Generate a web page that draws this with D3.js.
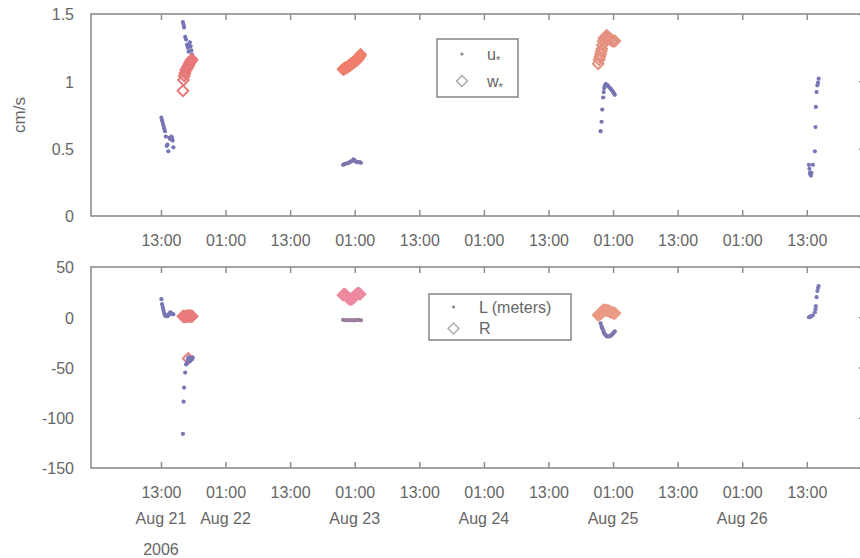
<!DOCTYPE html>
<html>
<head>
<meta charset="utf-8">
<script src="https://cdn.jsdelivr.net/npm/d3@7"></script>
<style>
  body { margin: 0; background: #fff; }
  text { font-family: "Liberation Sans", Arial, Helvetica, sans-serif; fill: #666; }
</style>
</head>
<body>
<svg id="chart" width="860" height="558"></svg>
<script>
// ---- data: [time (MM-DD HH:MM, 2006), value] ----
// friction velocity u* (cm/s), one array per sampling run
const uStarRun1 = [
  ["08-21 13:05",0.73],["08-21 13:12",0.71],["08-21 13:20",0.69],["08-21 13:28",0.67],
  ["08-21 13:36",0.65],["08-21 13:44",0.63],["08-21 13:55",0.59],["08-21 14:04",0.52],
  ["08-21 14:12",0.53],["08-21 14:22",0.48],["08-21 14:35",0.58],["08-21 14:45",0.57],
  ["08-21 14:55",0.59],["08-21 15:05",0.58],["08-21 15:10",0.56],["08-21 15:18",0.51],
  ["08-21 17:05",1.44],["08-21 17:12",1.42],["08-21 17:18",1.40],["08-21 17:30",1.33],
  ["08-21 17:40",1.31],["08-21 17:50",1.27],["08-21 18:00",1.25],["08-21 18:08",1.22],
  ["08-21 18:15",1.27],["08-21 18:22",1.29],["08-21 18:30",1.26],["08-21 18:38",1.23],
  ["08-21 18:45",1.20],["08-21 18:52",1.18]
];
const uStarRun2 = [
  ["08-22 22:50",0.38],["08-22 23:05",0.385],["08-22 23:20",0.39],["08-22 23:35",0.39],
  ["08-22 23:50",0.395],["08-23 00:05",0.40],["08-23 00:20",0.405],["08-23 00:35",0.41],
  ["08-23 00:45",0.42],["08-23 00:55",0.415],["08-23 01:10",0.405],["08-23 01:25",0.40],
  ["08-23 01:40",0.40],["08-23 01:55",0.40],["08-23 02:10",0.395]
];
const uStarRun3 = [
  ["08-24 22:41",0.63],["08-24 22:52",0.70],["08-24 22:59",0.79],["08-24 23:10",0.88],
  ["08-24 23:16",0.92],["08-24 23:21",0.95],["08-24 23:30",0.97],["08-24 23:40",0.98],
  ["08-24 23:50",0.97],["08-25 00:00",0.97],["08-25 00:10",0.96],["08-25 00:25",0.95],
  ["08-25 00:40",0.94],["08-25 00:50",0.93],["08-25 01:01",0.92],["08-25 01:10",0.91],
  ["08-25 01:20",0.90]
];
const uStarRun4 = [
  ["08-26 13:24",0.38],["08-26 13:30",0.35],["08-26 13:35",0.32],["08-26 13:40",0.31],
  ["08-26 13:46",0.30],["08-26 13:52",0.32],["08-26 14:08",0.38],["08-26 14:30",0.48],
  ["08-26 14:37",0.66],["08-26 14:41",0.81],["08-26 14:49",0.92],["08-26 14:58",0.97],
  ["08-26 15:05",0.99],["08-26 15:12",1.02]
];

// convective velocity w* (cm/s)
const wStarRun1 = [
  ["08-21 17:05",0.93],["08-21 17:12",1.01],["08-21 17:20",1.04],["08-21 17:28",1.06],
  ["08-21 17:36",1.08],["08-21 17:44",1.09],["08-21 17:52",1.10],["08-21 18:00",1.11],
  ["08-21 18:08",1.12],["08-21 18:16",1.13],["08-21 18:24",1.14],["08-21 18:32",1.15],
  ["08-21 18:40",1.16],["08-21 18:48",1.16]
];
const wStarRun2 = [
  ["08-22 22:50",1.09],["08-22 23:00",1.09],["08-22 23:10",1.10],["08-22 23:20",1.10],
  ["08-22 23:30",1.10],["08-22 23:40",1.11],["08-22 23:50",1.11],["08-23 00:00",1.12],
  ["08-23 00:10",1.12],["08-23 00:20",1.13],["08-23 00:30",1.13],["08-23 00:40",1.14],
  ["08-23 00:50",1.14],["08-23 01:00",1.15],["08-23 01:10",1.15],["08-23 01:20",1.16],
  ["08-23 01:30",1.16],["08-23 01:40",1.17],["08-23 01:50",1.18],["08-23 02:00",1.19],
  ["08-23 02:05",1.20]
];
const wStarRun3 = [
  ["08-24 22:15",1.13],["08-24 22:25",1.16],["08-24 22:33",1.18],["08-24 22:40",1.20],
  ["08-24 22:48",1.22],["08-24 22:55",1.24],["08-24 23:02",1.27],["08-24 23:10",1.30],
  ["08-24 23:20",1.32],["08-24 23:35",1.33],["08-24 23:48",1.34],["08-25 00:05",1.33],
  ["08-25 00:20",1.32],["08-25 00:35",1.31],["08-25 00:50",1.30],["08-25 01:05",1.30],
  ["08-25 01:20",1.30]
];

// Obukhov length L (meters)
const lRun1 = [
  ["08-21 13:05",18],["08-21 13:12",13],["08-21 13:20",10],["08-21 13:28",7],
  ["08-21 13:36",4],["08-21 13:44",2],["08-21 13:55",1],["08-21 14:04",2],
  ["08-21 14:12",1],["08-21 14:22",2],["08-21 14:35",4],["08-21 14:45",5],
  ["08-21 14:55",4],["08-21 15:05",3],["08-21 15:10",3],["08-21 15:18",3],
  ["08-21 17:05",-116],["08-21 17:12",-84],["08-21 17:18",-70],["08-21 17:30",-55],
  ["08-21 17:40",-47],["08-21 17:50",-45],["08-21 18:00",-42],["08-21 18:08",-40],
  ["08-21 18:15",-43],["08-21 18:22",-44],["08-21 18:30",-42],["08-21 18:38",-41],
  ["08-21 18:45",-42],["08-21 18:52",-40]
];
const lRun2 = [
  ["08-22 22:50",-2.5],["08-22 23:05",-3],["08-22 23:20",-3],["08-22 23:35",-3],
  ["08-22 23:50",-3],["08-23 00:05",-3],["08-23 00:20",-3],["08-23 00:35",-3],
  ["08-23 00:45",-3],["08-23 00:55",-3],["08-23 01:10",-3],["08-23 01:25",-2.5],
  ["08-23 01:40",-2.5],["08-23 01:55",-3],["08-23 02:10",-3]
];
const lRun3 = [
  ["08-24 22:41",-6],["08-24 22:52",-9],["08-24 22:59",-11],["08-24 23:10",-13],
  ["08-24 23:16",-15],["08-24 23:21",-16],["08-24 23:30",-17],["08-24 23:40",-18],
  ["08-24 23:50",-19],["08-25 00:00",-19],["08-25 00:10",-19],["08-25 00:25",-19],
  ["08-25 00:40",-18],["08-25 00:50",-17],["08-25 01:01",-16],["08-25 01:10",-15],
  ["08-25 01:20",-14]
];
const lRun4 = [
  ["08-26 13:24",0],["08-26 13:30",0],["08-26 13:35",0.5],["08-26 13:40",0.5],
  ["08-26 13:46",1],["08-26 13:52",1],["08-26 14:08",2],["08-26 14:30",5],
  ["08-26 14:37",8],["08-26 14:41",11],["08-26 14:49",20],["08-26 14:58",26],
  ["08-26 15:05",29],["08-26 15:12",31]
];

// R
const rRun1 = [
  ["08-21 17:05",1],["08-21 17:12",1],["08-21 17:20",0.5],["08-21 17:28",0.5],
  ["08-21 17:36",1],["08-21 17:44",1],["08-21 17:52",1],["08-21 18:00",1],
  ["08-21 18:04",-41],["08-21 18:08",1],["08-21 18:16",1.5],["08-21 18:24",1.5],
  ["08-21 18:32",1],["08-21 18:40",1],["08-21 18:48",1]
];
const rRun2 = [
  ["08-22 22:50",22],["08-22 23:00",23],["08-22 23:10",23],["08-22 23:20",22],
  ["08-22 23:30",21],["08-22 23:40",20],["08-22 23:50",19],["08-23 00:00",18.5],
  ["08-23 00:10",18],["08-23 00:20",18],["08-23 00:30",18.5],["08-23 00:40",19],
  ["08-23 00:50",20],["08-23 01:00",21],["08-23 01:10",22],["08-23 01:20",23],
  ["08-23 01:30",23.5],["08-23 01:40",24],["08-23 01:50",23.5],["08-23 02:00",23]
];
const rRun3 = [
  ["08-24 22:15",2],["08-24 22:25",3],["08-24 22:33",3],["08-24 22:40",4],
  ["08-24 22:48",4],["08-24 22:55",5],["08-24 23:02",6],["08-24 23:10",7],
  ["08-24 23:20",7],["08-24 23:35",7],["08-24 23:48",7],["08-25 00:05",6.5],
  ["08-25 00:20",6],["08-25 00:35",5],["08-25 00:50",5],["08-25 01:05",4],
  ["08-25 01:20",4]
];

// axes
const xTickTimes = ["08-21 13:00","08-22 01:00","08-22 13:00","08-23 01:00","08-23 13:00",
  "08-24 01:00","08-24 13:00","08-25 01:00","08-25 13:00","08-26 01:00","08-26 13:00"];
const dateLabels = [["08-21 13:00","Aug 21"],["08-22 01:00","Aug 22"],["08-23 01:00","Aug 23"],
  ["08-24 01:00","Aug 24"],["08-25 01:00","Aug 25"],["08-26 01:00","Aug 26"]];
const yearLabel = ["08-21 13:00","2006"];
const topYTicks = [0, 0.5, 1, 1.5];
const bottomYTicks = [-150, -100, -50, 0, 50];

// colours per run
const uColors = ["#7474b6","#7c76ae","#7474b2","#7878b8"];
const wColors = ["#e87878","#ef7e6c","#e4907e"];
const lColors = ["#7676b4","#9a7c9c","#7c76b0","#7c7cb8"];
const rColors = ["#ea7c7c","#ee8aa0","#eb9a84"];

// ---- drawing ----
const parse = d3.timeParse("%Y-%m-%d %H:%M");
const t = s => parse("2006-" + s);
const svg = d3.select("#chart");

const W = { left: 91, right: 866 };
const panels = {
  top: { y0: 14, y1: 216 },
  bottom: { y0: 267, y1: 468 }
};

const x = d3.scaleTime().domain([t("08-21 00:00"), t("08-27 00:00")]).range([W.left, W.right]);
const yTop = d3.scaleLinear().domain([0, 1.5]).range([panels.top.y1, panels.top.y0]);
const yBot = d3.scaleLinear().domain([-150, 50]).range([panels.bottom.y1, panels.bottom.y0]);

const frameColor = "#8e8e8e";
const tickVals = xTickTimes.map(t);

function drawFrame(p, yScale, yTicks, fmt) {
  // x ticks (inward) along bottom with labels
  const gb = svg.append("g").attr("transform", `translate(0,${p.y1})`)
    .call(d3.axisBottom(x).tickValues(tickVals).tickSize(-6).tickPadding(19)
      .tickFormat(d3.timeFormat("%H:%M")));
  // x ticks (inward) along top
  const gt = svg.append("g").attr("transform", `translate(0,${p.y0})`)
    .call(d3.axisTop(x).tickValues(tickVals).tickSize(-6).tickFormat(""));
  // y labels on the left
  const gl = svg.append("g").attr("transform", `translate(${W.left},0)`)
    .call(d3.axisLeft(yScale).tickValues(yTicks).tickSize(0).tickPadding(17).tickFormat(fmt));
  // y ticks (inward) on the right
  const gr = svg.append("g").attr("transform", `translate(${W.right},0)`)
    .call(d3.axisRight(yScale).tickValues(yTicks).tickSize(-7).tickFormat(""));
  [gb, gt, gl, gr].forEach(g => {
    g.select(".domain").remove();
    g.selectAll("line").attr("stroke", frameColor).attr("stroke-width", 1.5);
    g.selectAll("text").style("font-size", "16px").attr("fill", "#666");
  });
  gl.selectAll("text").attr("dy", "0.36em");
  svg.append("rect")
    .attr("x", W.left).attr("y", p.y0)
    .attr("width", W.right - W.left).attr("height", p.y1 - p.y0)
    .attr("fill", "none").attr("stroke", frameColor).attr("stroke-width", 1.6);
}

drawFrame(panels.top, yTop, topYTicks, d => String(d));
drawFrame(panels.bottom, yBot, bottomYTicks, d => String(d));

// date and year labels under the lower panel
svg.append("g").selectAll("text").data(dateLabels).join("text")
  .attr("x", d => x(t(d[0]))).attr("y", 524)
  .attr("text-anchor", "middle").style("font-size", "16px")
  .text(d => d[1]);
svg.append("text")
  .attr("x", x(t(yearLabel[0]))).attr("y", 555)
  .attr("text-anchor", "middle").style("font-size", "16px")
  .text(yearLabel[1]);

// y axis title
svg.append("text")
  .attr("transform", `translate(25,${(panels.top.y0 + panels.top.y1) / 2}) rotate(-90)`)
  .attr("text-anchor", "middle").style("font-size", "17px")
  .text("cm/s");

const diamond = d3.symbol().type(d3.symbolSquare).size(58);

function dots(runs, yScale, colors) {
  runs.forEach((run, i) => {
    svg.append("g").selectAll("circle").data(run).join("circle")
      .attr("cx", d => x(t(d[0]))).attr("cy", d => yScale(d[1]))
      .attr("r", 2.1).attr("fill", colors[i]);
  });
}
function diamonds(runs, yScale, colors) {
  runs.forEach((run, i) => {
    svg.append("g").selectAll("path").data(run).join("path")
      .attr("d", diamond)
      .attr("transform", d => `translate(${x(t(d[0]))},${yScale(d[1])}) rotate(45)`)
      .attr("fill", "none").attr("stroke", colors[i]).attr("stroke-width", 1.9);
  });
}

dots([uStarRun1, uStarRun2, uStarRun3, uStarRun4], yTop, uColors);
diamonds([wStarRun1, wStarRun2, wStarRun3], yTop, wColors);
diamonds([rRun1, rRun2, rRun3], yBot, rColors);
dots([lRun1, lRun2, lRun3, lRun4], yBot, lColors);

// legends
function legend(box, items) {
  const g = svg.append("g");
  g.append("rect").attr("x", box.x).attr("y", box.y).attr("width", box.w).attr("height", box.h)
    .attr("fill", "#fff").attr("stroke", "#858585").attr("stroke-width", 1.5);
  items.forEach((it, i) => {
    const cy = box.y + box.first + i * box.step;
    if (it.mark === "dot") {
      g.append("circle").attr("cx", box.x + box.markX).attr("cy", cy).attr("r", 1.6).attr("fill", "#888");
    } else {
      g.append("path").attr("d", diamond)
        .attr("transform", `translate(${box.x + box.markX},${cy}) rotate(45)`)
        .attr("fill", "none").attr("stroke", "#aaa").attr("stroke-width", 1.4);
    }
    const tx = g.append("text").attr("x", box.x + box.textX).attr("y", cy + 5.5)
      .style("font-size", "16px").attr("fill", "#555");
    tx.append("tspan").text(it.label);
    if (it.sub) tx.append("tspan").attr("dy", 4).style("font-size", "11px").text(it.sub);
  });
}
legend({ x: 437, y: 39, w: 81, h: 58, first: 15, step: 27, markX: 25, textX: 50 },
  [{ mark: "dot", label: "u", sub: "*" }, { mark: "diamond", label: "w", sub: "*" }]);
legend({ x: 429, y: 294, w: 142, h: 46, first: 13, step: 21.5, markX: 24.5, textX: 50 },
  [{ mark: "dot", label: "L (meters)" }, { mark: "diamond", label: "R" }]);
</script>
</body>
</html>
